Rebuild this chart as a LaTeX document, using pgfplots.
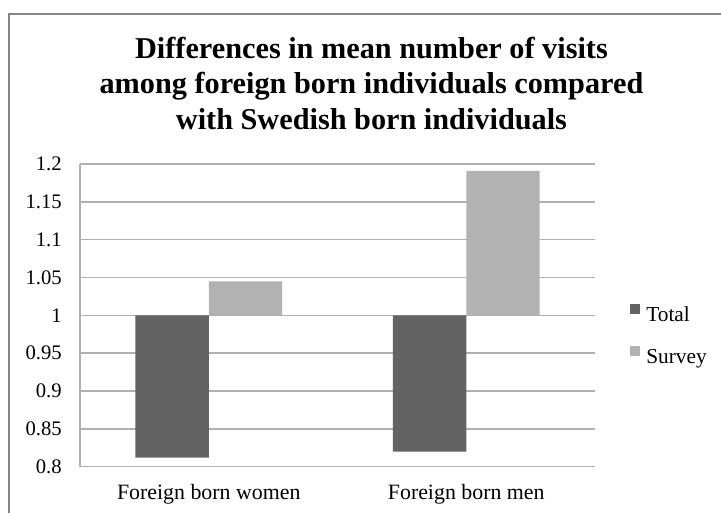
\documentclass[border=0pt]{standalone}
\usepackage{fontspec}
\setmainfont{Liberation Serif}
\usepackage{pgfplots}
\pgfplotsset{compat=1.18}

\definecolor{totalgray}{HTML}{636363}
\definecolor{surveygray}{HTML}{B2B2B2}
\definecolor{gridgray}{HTML}{B0B0B0}
\definecolor{framegray}{HTML}{868686}

\begin{document}
\begin{tikzpicture}
\useasboundingbox (0,0) rectangle (540.75pt,384.75pt);
% chart frame
\draw[framegray, line width=1.5pt] (6.75pt,-5pt) -- (6.75pt,374.25pt) -- (560pt,374.25pt);

% title
\begin{scope}[every node/.style={anchor=base, inner sep=0pt, font=\fontsize{22.7}{26}\selectfont\bfseries}]
\node at (278.6pt,340.9pt) {Differences in mean number of visits};
\node at (278.6pt,314.25pt) {among foreign born individuals compared};
\node at (278.6pt,287.6pt) {with Swedish born individuals};
\end{scope}

\begin{axis}[
  scale only axis,
  width=386.25pt, height=227pt,
  at={(60pt,34.725pt)}, anchor=south west,
  ybar=0pt, bar width=55.1pt,
  xmin=-0.5, xmax=1.5,
  xtick={0,1},
  xticklabels={Foreign born women, Foreign born men},
  % bars grow from the reference level 1
  y coord trafo/.code={\pgfmathparse{#1-1}},
  y coord inv trafo/.code={\pgfmathparse{#1+1}},
  ymin=0.8, ymax=1.2,
  ytick={0.8,0.85,0.9,0.95,1,1.05,1.1,1.15,1.2},
  yticklabels={0.8,0.85,0.9,0.95,1,1.05,1.1,1.15,1.2},
  /pgf/number format/assume math mode=true,
  ymajorgrids,
  grid style={gridgray, line width=1.1pt},
  axis x line*=bottom, axis y line*=left,
  axis line style={gridgray, line width=1.1pt, -},
  major tick length=0pt,
  yticklabel style={inner sep=0pt, anchor=east, xshift=-13.5pt, font=\fontsize{15.5}{18}\selectfont},
  xticklabel style={inner sep=0pt, anchor=north, yshift=-13pt, font=\fontsize{16.4}{19}\selectfont},
  legend style={draw=none, fill=none, inner sep=0pt, at={(1.068,0.540)}, anchor=north west,
    row sep=16.5pt, column sep=4.5pt, font=\fontsize{16}{19}\selectfont,
    nodes={inner sep=0pt}},
  legend cell align=left,
]
\addplot[fill=totalgray, draw=none,
  legend image code/.code={\fill[totalgray] (0pt,1.5pt) rectangle (7.5pt,9pt);}]
  coordinates {(0,0.812) (1,0.820)};
\addlegendentry{Total}
\addplot[fill=surveygray, draw=none,
  legend image code/.code={\fill[surveygray] (0pt,1.5pt) rectangle (7.5pt,9pt);}]
  coordinates {(0,1.045) (1,1.191)};
\addlegendentry{Survey}
\end{axis}
\end{tikzpicture}
\end{document}
